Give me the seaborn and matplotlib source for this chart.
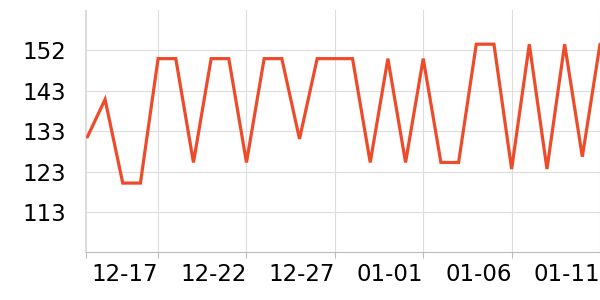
import matplotlib
matplotlib.use("Agg")
import matplotlib.pyplot as plt
import matplotlib.dates as mdates
import seaborn as sns
import pandas as pd
import numpy as np

dates = pd.date_range("2023-12-13", "2024-01-11", freq="D")
values = [131.4, 140.5, 120.2, 120.2, 150.4, 150.4, 125.2, 150.4, 150.4, 125.2,
          150.4, 150.4, 130.9, 150.4, 150.4, 150.4, 125.2, 150.4, 125.2, 150.4,
          125.2, 125.2, 153.9, 153.9, 123.6, 153.9, 123.6, 153.9, 126.6, 153.9]
x_tick_labels = ["12-17", "12-22", "12-27", "01-01", "01-06", "01-11"]
x_tick_dates = pd.to_datetime(["2023-12-17", "2023-12-22", "2023-12-27",
                               "2024-01-01", "2024-01-06", "2024-01-11"])
y_ticks = [113.2, 123.0, 132.8, 142.6, 152.4]
y_tick_labels = ["113", "123", "133", "143", "152"]
y_min, y_max = 103.4, 162.2

df = pd.DataFrame({"date": dates, "value": values})

sns.set_theme(style="white")
plt.rcParams["font.family"] = ["DejaVu Sans"]

fig = plt.figure(figsize=(6, 3), dpi=100)
ax = fig.add_axes([85.5 / 600, 47.7 / 300, 514.5 / 600, 242.3 / 300])
sns.lineplot(data=df, x="date", y="value", ax=ax, color="#EE4B2B",
             linewidth=2.3, solid_joinstyle="miter")

d0 = mdates.date2num(dates[0])
ax.set_xlim(d0 - 0.107, d0 + 28.93)
ax.set_ylim(y_min, y_max)

ax.set_yticks(y_ticks)
ax.set_yticklabels(y_tick_labels)
xt = [d0 - 0.107] + list(mdates.date2num(x_tick_dates))
ax.set_xticks(xt)
ax.set_xticklabels([""] + x_tick_labels, ha="right")

ax.grid(True, color="#dddddd", linewidth=0.8)
ax.set_axisbelow(True)
ax.set_xlabel("")
ax.set_ylabel("")
for s in ["top", "right"]:
    ax.spines[s].set_visible(False)
ax.spines["left"].set_color("#dddddd")
ax.spines["left"].set_linewidth(0.8)
ax.spines["bottom"].set_color("#bbbbbb")
ax.spines["bottom"].set_linewidth(0.8)
ax.tick_params(axis="x", bottom=True, length=4, width=0.8, color="#bbbbbb",
               labelsize=16.5, pad=4, labelcolor="black")
ax.tick_params(axis="y", left=False, length=0, labelsize=16.5, pad=14,
               labelcolor="black")

fig.savefig("out.png", dpi=100)
